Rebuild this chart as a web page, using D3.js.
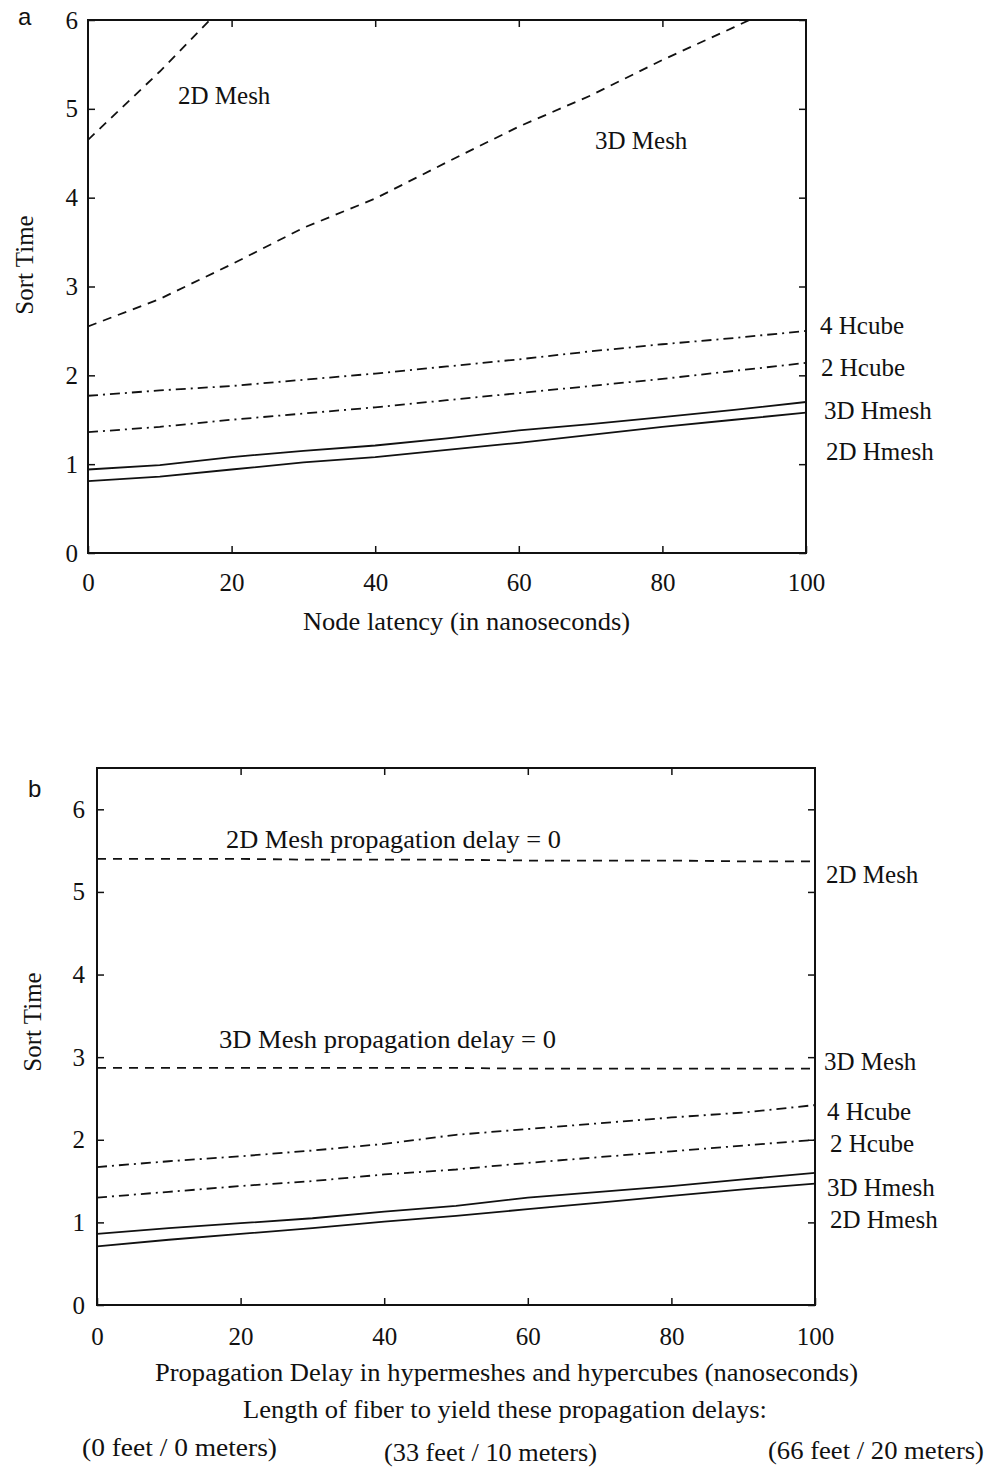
<!DOCTYPE html>
<html>
<head>
<meta charset="utf-8">
<script src="https://cdn.jsdelivr.net/npm/d3@7"></script>
<style>
  html, body { margin: 0; padding: 0; background: #fff; }
  svg { display: block; }
  .tick text { font-family: 'Liberation Serif', serif; font-size: 25px; fill: #111; }
  .lbl { font-family: 'Liberation Serif', serif; font-size: 25px; fill: #111; }
</style>
</head>
<body>
<div id="chart"></div>
<script>
'use strict';

// x values (ns) shared by both panels
var nsValues = [0, 10, 20, 30, 40, 50, 60, 70, 80, 90, 100];
var xTickValues = [0, 20, 40, 60, 80, 100];
var yTickValues = [0, 1, 2, 3, 4, 5, 6];

// panel a: sort time vs node latency
var a2DMesh  = [4.65, 5.42, 6.25, 7.05, 7.85, 8.65, 9.45, 10.25, 11.05, 11.85, 12.65];
var a3DMesh  = [2.55, 2.86, 3.25, 3.66, 3.99, 4.40, 4.80, 5.15, 5.55, 5.92, 6.30];
var a4Hcube  = [1.77, 1.83, 1.88, 1.95, 2.02, 2.10, 2.18, 2.27, 2.35, 2.42, 2.50];
var a2Hcube  = [1.36, 1.42, 1.50, 1.57, 1.64, 1.72, 1.80, 1.88, 1.96, 2.05, 2.14];
var a3DHmesh = [0.94, 0.99, 1.08, 1.15, 1.21, 1.29, 1.38, 1.45, 1.53, 1.61, 1.70];
var a2DHmesh = [0.81, 0.86, 0.94, 1.02, 1.08, 1.16, 1.24, 1.33, 1.42, 1.50, 1.58];

// panel b: sort time vs propagation delay
var b2DMesh  = [5.40, 5.40, 5.40, 5.39, 5.39, 5.39, 5.38, 5.38, 5.38, 5.37, 5.37];
var b3DMesh  = [2.87, 2.87, 2.87, 2.87, 2.87, 2.87, 2.86, 2.86, 2.86, 2.86, 2.86];
var b4Hcube  = [1.67, 1.74, 1.80, 1.87, 1.95, 2.06, 2.13, 2.20, 2.27, 2.33, 2.42];
var b2Hcube  = [1.30, 1.37, 1.44, 1.50, 1.58, 1.64, 1.72, 1.79, 1.86, 1.93, 2.00];
var b3DHmesh = [0.86, 0.93, 0.99, 1.05, 1.13, 1.20, 1.30, 1.37, 1.44, 1.52, 1.60];
var b2DHmesh = [0.71, 0.79, 0.86, 0.93, 1.01, 1.08, 1.16, 1.24, 1.32, 1.40, 1.47];

var seriesNames = ['2D Mesh', '3D Mesh', '4 Hcube', '2 Hcube', '3D Hmesh', '2D Hmesh'];

var dashes = {
  mesh: '9,7',
  hcube: '10,5,2,5',
  hmesh: null
};

var svg = d3.select('#chart').append('svg')
  .attr('width', 988)
  .attr('height', 1467);

svg.append('rect').attr('width', 988).attr('height', 1467).attr('fill', '#fff');

function drawPanel(p) {
  var g = svg.append('g')
    .attr('transform', 'translate(' + p.left + ',' + p.top + ')');

  var x = d3.scaleLinear().domain([0, 100]).range([0, p.width]);
  var y = d3.scaleLinear().domain([0, p.yMax]).range([p.height, 0]);

  g.append('clipPath').attr('id', p.id + '-clip')
    .append('rect').attr('width', p.width).attr('height', p.height);

  // axes, ticks pointing inward
  var left = g.append('g')
    .call(d3.axisLeft(y).tickValues(yTickValues).tickFormat(d3.format('d'))
      .tickSizeInner(-7).tickSizeOuter(0).tickPadding(p.yPad));
  var bottom = g.append('g')
    .attr('transform', 'translate(0,' + p.height + ')')
    .call(d3.axisBottom(x).tickValues(xTickValues).tickFormat(d3.format('d'))
      .tickSizeInner(-7).tickSizeOuter(0).tickPadding(p.xPad));
  var right = g.append('g')
    .attr('transform', 'translate(' + p.width + ',0)')
    .call(d3.axisRight(y).tickValues(yTickValues).tickSizeInner(-7).tickSizeOuter(0).tickFormat(''));
  var top = g.append('g')
    .call(d3.axisTop(x).tickValues(xTickValues.slice(1, -1)).tickSizeInner(-7).tickSizeOuter(0).tickFormat(''));

  [left, bottom, right, top].forEach(function (ax) {
    ax.select('.domain').remove();
    ax.selectAll('line').attr('stroke', '#111').attr('stroke-width', 1.5);
  });

  g.append('rect')
    .attr('width', p.width)
    .attr('height', p.height)
    .attr('fill', 'none')
    .attr('stroke', '#111')
    .attr('stroke-width', 2);

  var line = d3.line()
    .x(function (d, i) { return x(nsValues[i]); })
    .y(function (d) { return y(d); });

  var lines = g.append('g').attr('clip-path', 'url(#' + p.id + '-clip)');
  p.series.forEach(function (s) {
    lines.append('path')
      .datum(s.values)
      .attr('d', line)
      .attr('fill', 'none')
      .attr('stroke', '#111')
      .attr('stroke-width', 1.8)
      .attr('stroke-dasharray', s.dash);
  });

  p.labels.forEach(function (l) {
    var t = g.append('text')
      .attr('class', 'lbl')
      .attr('x', l.x)
      .attr('y', l.y)
      .text(l.text);
    if (l.len) t.attr('textLength', l.len).attr('lengthAdjust', 'spacingAndGlyphs');
  });

  g.append('text')
    .attr('class', 'lbl')
    .attr('transform', 'translate(' + p.yTitle[0] + ',' + p.yTitle[1] + ') rotate(-90)')
    .attr('text-anchor', 'middle')
    .text('Sort Time');

  g.append('text')
    .attr('x', p.letter[0])
    .attr('y', p.letter[1])
    .style('font-family', "'Liberation Sans', sans-serif")
    .style('font-size', '24px')
    .attr('fill', '#111')
    .text(p.id);
}

drawPanel({
  id: 'a', left: 88, top: 20, width: 718, height: 533, yMax: 6,
  yPad: 10, xPad: 20,
  yTitle: [-55, 245], letter: [-70, 5],
  series: [
    { values: a2DMesh, dash: dashes.mesh },
    { values: a3DMesh, dash: dashes.mesh },
    { values: a4Hcube, dash: dashes.hcube },
    { values: a2Hcube, dash: dashes.hcube },
    { values: a3DHmesh, dash: dashes.hmesh },
    { values: a2DHmesh, dash: dashes.hmesh }
  ],
  labels: [
    { text: seriesNames[0], x: 90, y: 84 },
    { text: seriesNames[1], x: 507, y: 129 },
    { text: seriesNames[2], x: 732, y: 314 },
    { text: seriesNames[3], x: 733, y: 356 },
    { text: seriesNames[4], x: 736, y: 399 },
    { text: seriesNames[5], x: 738, y: 440 }
  ]
});

drawPanel({
  id: 'b', left: 97, top: 768, width: 718, height: 537, yMax: 6.5,
  yPad: 12, xPad: 22,
  yTitle: [-56, 254], letter: [-69, 29],
  series: [
    { values: b2DMesh, dash: dashes.mesh },
    { values: b3DMesh, dash: dashes.mesh },
    { values: b4Hcube, dash: dashes.hcube },
    { values: b2Hcube, dash: dashes.hcube },
    { values: b3DHmesh, dash: dashes.hmesh },
    { values: b2DHmesh, dash: dashes.hmesh }
  ],
  labels: [
    { text: seriesNames[0] + ' propagation delay = 0', x: 129, y: 80, len: 335 },
    { text: seriesNames[1] + ' propagation delay = 0', x: 122, y: 280, len: 337 },
    { text: seriesNames[0], x: 729, y: 115 },
    { text: seriesNames[1], x: 727, y: 302 },
    { text: seriesNames[2], x: 730, y: 352 },
    { text: seriesNames[3], x: 733, y: 384 },
    { text: seriesNames[4], x: 730, y: 428 },
    { text: seriesNames[5], x: 733, y: 460 }
  ]
});

// axis titles and the fibre length notes
var notes = [
  { text: 'Node latency (in nanoseconds)', x: 303, y: 630, len: 327 },
  { text: 'Propagation Delay in hypermeshes and hypercubes (nanoseconds)', x: 155, y: 1381, len: 703 },
  { text: 'Length of fiber to yield these propagation delays:', x: 243, y: 1418, len: 524 },
  { text: '(0 feet / 0 meters)', x: 82, y: 1456, len: 195 },
  { text: '(33 feet / 10 meters)', x: 384, y: 1461, len: 213 },
  { text: '(66 feet / 20 meters)', x: 768, y: 1459, len: 216 }
];

svg.selectAll('.note')
  .data(notes)
  .enter()
  .append('text')
  .attr('class', 'lbl note')
  .attr('x', function (d) { return d.x; })
  .attr('y', function (d) { return d.y; })
  .attr('textLength', function (d) { return d.len; })
  .attr('lengthAdjust', 'spacingAndGlyphs')
  .text(function (d) { return d.text; });
</script>
</body>
</html>
